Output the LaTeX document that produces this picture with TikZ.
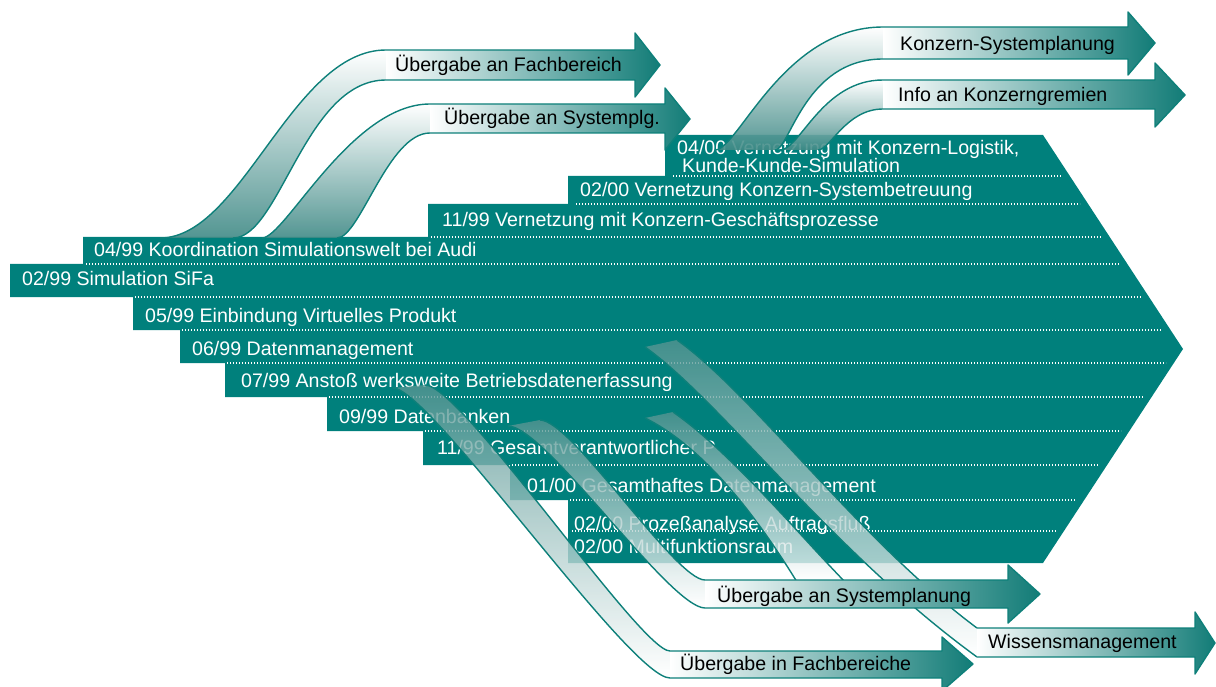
\documentclass[tikz,border=0pt]{standalone}
\usepackage{fontspec}
\setmainfont{Liberation Sans}

\begin{document}
\begin{tikzpicture}[
  x=1pt,y=-1pt,
  font=\fontsize{19.6}{18.5}\selectfont,
  band/.style={fill=bandc},
  dots/.style={white,line width=1.3pt,dash pattern=on 1.3pt off 1.7pt},
  lab/.style={text=white,anchor=base west,inner sep=0pt},
  tag/.style={text=black,anchor=base west,inner sep=0pt},
  rim/.style={draw=rimc,line width=1.4pt,line join=round},
  riseup/.style={top color=white,bottom color=swc,fill opacity=0.9},
  falldown/.style={top color=swd,bottom color=white,fill opacity=0.8},
  shaft/.style={left color=white,middle color=white!72!headc,right color=headc}]

  \definecolor{bandc}{RGB}{0,128,124}
  \definecolor{rimc}{RGB}{14,128,122}
  \definecolor{swc}{RGB}{64,138,134}
  \definecolor{swd}{RGB}{84,148,145}
  \definecolor{headc}{RGB}{18,124,119}

  \useasboundingbox (0,0) rectangle (1216,687);

  % ================= stepped band arrow =================
  \path[band] (665,135) -- (1043,135) -- (1183,349) -- (1043,563)
    -- (568,563) -- (568,500) -- (510,500) -- (510,465) -- (423,465)
    -- (423,431) -- (327,431) -- (327,397) -- (225,397) -- (225,363)
    -- (180,363) -- (180,330) -- (133,330) -- (133,297) -- (10,297)
    -- (10,264) -- (83,264) -- (83,237) -- (428,237) -- (428,204)
    -- (568,204) -- (568,176) -- (665,176) -- cycle;

  % row separators
  \draw[dots] (673,176) -- (1062,176);
  \draw[dots] (576,204) -- (1080,204);
  \draw[dots] (431,237) -- (1102,237);
  \draw[dots] (86,264) -- (1119,264);
  \draw[dots] (135,297) -- (1141,297);
  \draw[dots] (182,330) -- (1162,330);
  \draw[dots] (227,363) -- (1166,363);
  \draw[dots] (329,397) -- (1144,397);
  \draw[dots] (425,431) -- (1121,431);
  \draw[dots] (512,465) -- (1099,465);
  \draw[dots] (570,500) -- (1076,500);
  \draw[dots] (572,531) -- (1057,531);

  % milestones
  \node[lab] (m0400) at (677,155) {04/00 Vernetzung mit Konzern-Logistik,};
  \node[lab] (m0400b) at (682,173) {Kunde-Kunde-Simulation};
  \node[lab] (m0200a) at (580,197) {02/00 Vernetzung Konzern-Systembetreuung};
  \node[lab] (m1199a) at (442,227) {11/99 Vernetzung mit Konzern-Geschäftsprozesse};
  \node[lab] (m0499) at (94,257) {04/99 Koordination Simulationswelt bei Audi};
  \node[lab] (m0299) at (22,286) {02/99 Simulation SiFa};
  \node[lab] (m0599) at (145,322) {05/99 Einbindung Virtuelles Produkt};
  \node[lab] (m0699) at (192,355) {06/99 Datenmanagement};
  \node[lab] (m0799) at (241,387) {07/99 Anstoß werksweite Betriebsdatenerfassung};
  \node[lab] (m0999) at (339,423) {09/99 Datenbanken};
  \node[lab] (m1199b) at (437,454) {11/99 Gesamtverantwortlicher P};
  \node[lab] (m0100) at (527,492) {01/00 Gesamthaftes Datenmanagement};
  \node[lab] (m0200b) at (574,530) {02/00 Prozeßanalyse Auftragsfluß};
  \node[lab] (m0200c) at (574,553) {02/00 Multifunktionsraum};

  % ================= hand-over arrows, top left =================
  \path[riseup] (160,238) .. controls (242,238) and (292,50) .. (386,50)
    -- (386,80) .. controls (305,80) and (280,238) .. (233,238) -- cycle;
  \path[shaft] (386,50) -- (635,50) -- (635,33) -- (660,65) -- (635,97)
    -- (635,80) -- (386,80) -- cycle;
  \draw[rim] (160,238) .. controls (242,238) and (292,50) .. (386,50)
    -- (635,50) -- (635,33) -- (660,65) -- (635,97) -- (635,80) -- (386,80)
    .. controls (305,80) and (280,238) .. (233,238);
  \node[tag] (fachber) at (395,72) {Übergabe an Fachbereich};

  \path[riseup] (262,238) .. controls (285,238) and (351,104) .. (430,104)
    -- (430,133) .. controls (388,133) and (360,238) .. (337,238) -- cycle;
  \path[shaft] (430,104) -- (665,104) -- (665,88) -- (690,119) -- (665,150)
    -- (665,133) -- (430,133) -- cycle;
  \draw[rim] (262,238) .. controls (285,238) and (351,104) .. (430,104)
    -- (665,104) -- (665,88) -- (690,119) -- (665,150) -- (665,133) -- (430,133)
    .. controls (388,133) and (360,238) .. (337,238);
  \node[tag] (systplg) at (444,125) {Übergabe an Systemplg.};

  % ================= hand-over arrows, top right =================
  \path[riseup] (715,150) .. controls (738,150) and (783,27) .. (883,27)
    -- (883,59) .. controls (804,59) and (790,150) .. (775,150) -- cycle;
  \path[shaft] (883,27) -- (1128,27) -- (1128,12) -- (1155,43) -- (1128,75)
    -- (1128,59) -- (883,59) -- cycle;
  \draw[rim] (715,150) .. controls (738,150) and (783,27) .. (883,27)
    -- (1128,27) -- (1128,12) -- (1155,43) -- (1128,75) -- (1128,59) -- (883,59)
    .. controls (804,59) and (790,150) .. (775,150);
  \node[tag] (kzsys) at (900,51) {Konzern-Systemplanung};

  \path[riseup] (780,150) .. controls (800,150) and (822,80) .. (883,80)
    -- (883,109) .. controls (846,109) and (830,150) .. (818,150) -- cycle;
  \path[shaft] (883,80) -- (1155,80) -- (1155,63) -- (1185,95) -- (1155,127)
    -- (1155,109) -- (883,109) -- cycle;
  \draw[rim] (780,150) .. controls (800,150) and (822,80) .. (883,80)
    -- (1155,80) -- (1155,63) -- (1185,95) -- (1155,127) -- (1155,109) -- (883,109)
    .. controls (846,109) and (830,150) .. (818,150);
  \node[tag] (kzinfo) at (898,102) {Info an Konzerngremien};

  % ================= hand-over arrows, bottom =================
  % swoop to Wissensmanagement (passes behind the Systemplanung shaft)
  \path[falldown] (645,347) .. controls (720,400) and (830,550) .. (977,657)
    -- (977,628) .. controls (862,543) and (752,393) .. (677,340) -- cycle;
  \draw[rim] (645,347) .. controls (720,400) and (830,550) .. (977,657);
  \draw[rim] (677,340) .. controls (752,393) and (862,543) .. (977,628);

  % second swoop into the Systemplanung shaft
  \path[falldown] (645,418) .. controls (710,450) and (765,530) .. (797,582)
    -- (845,582) .. controls (795,530) and (728,450) .. (673,412) -- cycle;
  \draw[rim] (645,418) .. controls (710,450) and (765,530) .. (797,582);
  \draw[rim] (673,412) .. controls (728,450) and (795,530) .. (845,582);

  % swoops of Fachbereiche and Systemplanung
  \path[falldown] (393,388) .. controls (430,388) and (630,678) .. (670,678)
    -- (670,651) .. controls (640,651) and (462,385) .. (425,385) -- cycle;
  \path[falldown] (508,426) .. controls (545,426) and (670,608) .. (705,608)
    -- (705,580) .. controls (675,580) and (572,420) .. (540,420) -- cycle;

  \path[shaft] (670,651) -- (942,651) -- (942,637) -- (973,664) -- (942,691)
    -- (942,678) -- (670,678) -- cycle;
  \draw[rim] (393,388) .. controls (430,388) and (630,678) .. (670,678)
    -- (942,678) -- (942,691) -- (973,664) -- (942,637) -- (942,651) -- (670,651)
    .. controls (640,651) and (462,385) .. (425,385);
  \node[tag] (infach) at (680,670) {Übergabe in Fachbereiche};

  \path[shaft] (705,580) -- (1008,580) -- (1008,565) -- (1040,594) -- (1008,623)
    -- (1008,608) -- (705,608) -- cycle;
  \draw[rim] (508,426) .. controls (545,426) and (670,608) .. (705,608)
    -- (1008,608) -- (1008,623) -- (1040,594) -- (1008,565) -- (1008,580) -- (705,580)
    .. controls (675,580) and (572,420) .. (540,420);
  \node[tag] (ansyst) at (717,602) {Übergabe an Systemplanung};

  \path[shaft] (977,628) -- (1195,628) -- (1195,612) -- (1215,643) -- (1195,674)
    -- (1195,657) -- (977,657) -- cycle;
  \draw[rim] (977,628) -- (1195,628) -- (1195,612) -- (1215,643) -- (1195,674)
    -- (1195,657) -- (977,657);
  \node[tag] (wissen) at (988,648) {Wissensmanagement};
\end{tikzpicture}
\end{document}
